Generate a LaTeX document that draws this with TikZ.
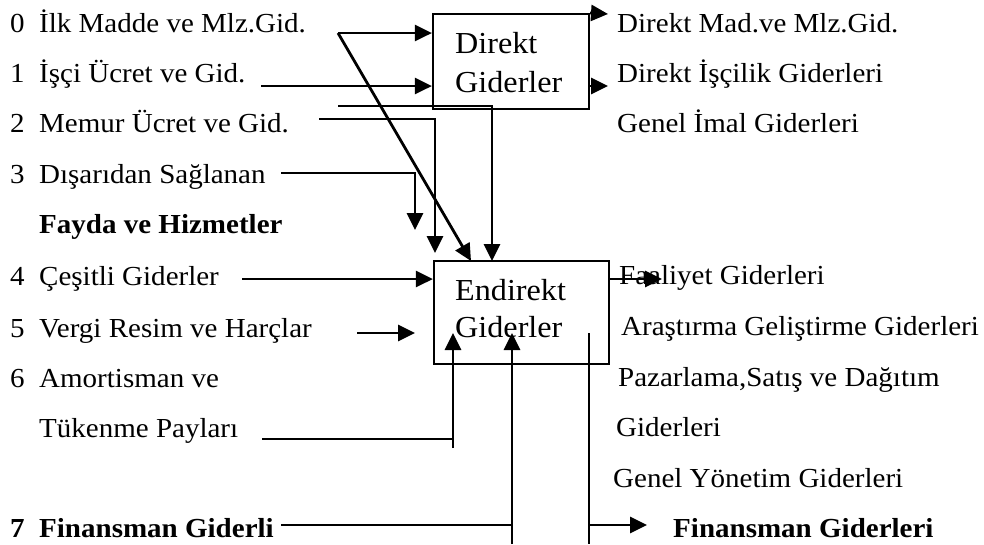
\documentclass[tikz,border=0pt]{standalone}
\usepackage{fontspec}
\setmainfont{Liberation Serif}[FakeStretch=1.055]
\usetikzlibrary{arrows.meta}
\begin{document}
\begin{tikzpicture}[x=1pt,y=-1pt,
  txt/.style={anchor=base west,inner sep=0pt,font=\fontsize{27.5}{32}\selectfont},
  btxt/.style={txt,font=\fontsize{27.5}{32}\selectfont\bfseries},
  boxtxt/.style={anchor=base west,inner sep=0pt,font=\fontsize{30.5}{35}\selectfont},
  box/.style={draw,line width=2.2pt,inner sep=0pt},
  arr/.style={line width=2.8pt,-{Triangle[length=17pt,width=16pt]}},
  thin/.style={line width=1.8pt}]
\useasboundingbox (0,0) rectangle (984,544);
% boxes
\node[box,minimum width=156pt,minimum height=95pt] (direkt) at (511,61.5) {};
\node[box,minimum width=175pt,minimum height=103pt] (endirekt) at (521.5,312.5) {};
\node[boxtxt] (d1) at (455,53) {Direkt};
\node[boxtxt] (d2) at (455,92) {Giderler};
\node[boxtxt] (e1) at (455,300) {Endirekt};
\node[boxtxt] (e2) at (455,337) {Giderler};
% left texts
\node[txt] (n0) at (10,32) {0};
\node[txt] (l0) at (39,32) {İlk Madde ve Mlz.Gid.};
\node[txt] (n1) at (10,82) {1};
\node[txt] (l1) at (39,82) {İşçi Ücret ve Gid.};
\node[txt] (n2) at (10,132) {2};
\node[txt] (l2) at (39,132) {Memur Ücret ve Gid.};
\node[txt] (n3) at (10,183) {3};
\node[txt] (l3) at (39,183) {Dışarıdan Sağlanan};
\node[btxt] (l3b) at (39,233) {Fayda ve Hizmetler};
\node[txt] (n4) at (10,285) {4};
\node[txt] (l4) at (39,285) {Çeşitli Giderler};
\node[txt] (n5) at (10,337) {5};
\node[txt] (l5) at (39,337) {Vergi Resim ve Harçlar};
\node[txt] (n6) at (10,387) {6};
\node[txt] (l6) at (39,387) {Amortisman ve};
\node[txt] (l6b) at (39,437) {Tükenme Payları};
\node[btxt] (n7) at (10,537) {7};
\node[btxt] (l7) at (39,537) {Finansman Giderli};
% right texts
\node[txt] (r1) at (617,32) {Direkt Mad.ve Mlz.Gid.};
\node[txt] (r2) at (617,82) {Direkt İşçilik Giderleri};
\node[txt] (r3) at (617,132) {Genel İmal Giderleri};
\node[txt] (r4) at (619,284) {Faaliyet Giderleri};
\node[txt] (r5) at (621,335) {Araştırma Geliştirme Giderleri};
\node[txt] (r6) at (618,386) {Pazarlama,Satış ve Dağıtım};
\node[txt] (r7) at (616,436) {Giderleri};
\node[txt] (r8) at (613,487) {Genel Yönetim Giderleri};
\node[btxt] (r9) at (673,537) {Finansman Giderleri};
% coordinates
\coordinate (c0) at (338,33);
\coordinate (t0) at (471,261);
\coordinate (c1) at (261,86);
\coordinate (cx) at (338,106);
\coordinate (tx) at (492,261);
\coordinate (c2) at (319,119);
\coordinate (t2) at (435,253);
\coordinate (c3) at (281,173);
\coordinate (t3) at (415,230);
\coordinate (c4) at (242,279);
\coordinate (c5) at (357,333);
\coordinate (t5) at (415,333);
\coordinate (c6) at (262,439);
\coordinate (j6) at (453,439);
\coordinate (b6) at (453,448);
\coordinate (t6) at (453,333);
\coordinate (c7) at (281,525);
\coordinate (j7) at (512,525);
\coordinate (b7) at (512,544);
\coordinate (t7) at (512,333);
\coordinate (v8) at (589,333);
\coordinate (b8) at (589,544);
\coordinate (j8) at (589,525);
\coordinate (t8) at (647,525);
\coordinate (o1) at (608,14);
\coordinate (o2) at (608,86);
\coordinate (o3) at (662,279);
% connectors
\draw[arr] (c0) -- (direkt.west |- c0);
\draw[arr] (c0) -- (t0);
\draw[arr] (c1) -- (direkt.west |- c1);
\draw[arr] (cx) -| (tx);
\draw[arr] (c2) -| (t2);
\draw[arr] (c3) -| (t3);
\draw[arr] (c4) -- (endirekt.west |- c4);
\draw[arr] (c5) -- (t5);
\draw[thin] (c6) -- (j6);
\draw[arr] (b6) -- (t6);
\draw[thin] (c7) -- (j7);
\draw[arr] (b7) -- (t7);
\draw[thin] (v8) -- (b8);
\draw[arr] (j8) -- (t8);
\draw[arr] (direkt.north east) -- (o1);
\draw[arr] (direkt.east |- o2) -- (o2);
\draw[arr] (endirekt.east |- o3) -- (o3);
\end{tikzpicture}
\end{document}
